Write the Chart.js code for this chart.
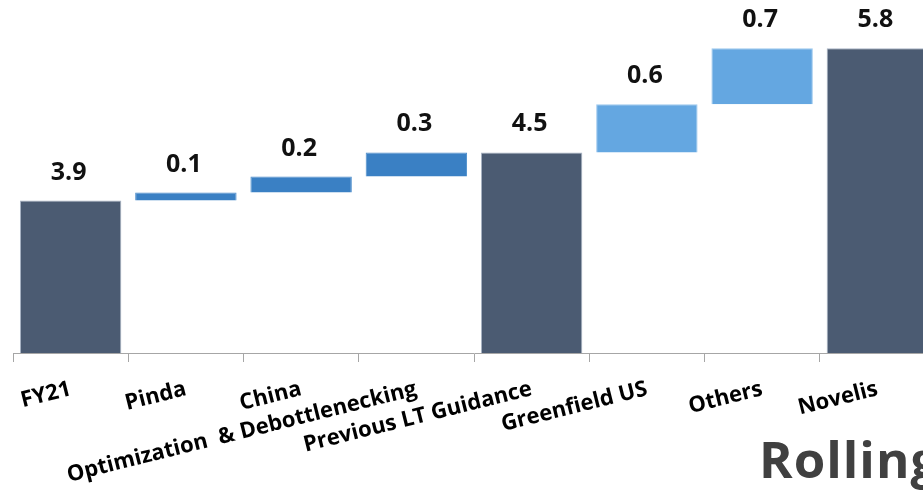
<!DOCTYPE html>
<html>
<head>
<meta charset="utf-8">
<script src="https://cdn.jsdelivr.net/npm/chart.js@4.4.1/dist/chart.umd.min.js"></script>
<style>
html, body { margin: 0; padding: 0; overflow: hidden; background: #fff; }
#wrap { position: relative; width: 940px; height: 492px; }
</style>
</head>
<body>
<div id="wrap"><canvas id="graficoCascata"></canvas></div>
<script>
// categorias (eixo x)
const categorias = ['FY21', 'Pinda', 'China', 'Optimization  & Debottlenecking', 'Previous LT Guidance', 'Greenfield US', 'Others', 'Novelis'];
// valores de cada barra
const valores = [3.9, 0.1, 0.2, 0.3, 4.5, 0.6, 0.7, 5.8];
// barras de total (partem do zero)
const totais = [true, false, false, false, true, false, false, true];

// monta as barras flutuantes da cascata
let acumulado = 0;
const faixas = valores.map((v, i) => {
    if (totais[i]) { acumulado = v; return [0, v]; }
    const ini = acumulado;
    acumulado = +(acumulado + v).toFixed(2);
    return [ini, acumulado];
});

const cores = ['#4B5B72', '#3A80C4', '#3A80C4', '#3A80C4', '#4B5B72', '#64A7E1', '#64A7E1', '#4B5B72'];
const bordas = ['#A9B4C4', '#4C8DCB', '#4C8DCB', '#4C8DCB', '#A9B4C4', '#9CC8EE', '#9CC8EE', '#A9B4C4'];

// rotulos de valor em cima das barras
const rotulosValor = {
    id: 'rotulosValor',
    afterDatasetsDraw(chart) {
        const ctx = chart.ctx;
        const meta = chart.getDatasetMeta(0);
        ctx.save();
        ctx.font = 'bold 25px "Open Sans"';
        ctx.fillStyle = '#111';
        ctx.textAlign = 'center';
        ctx.textBaseline = 'alphabetic';
        meta.data.forEach((barra, i) => {
            const topo = Math.min(barra.y, barra.base);
            ctx.fillText(valores[i].toFixed(1), barra.x - 2, topo - 21);
        });
        ctx.restore();
    }
};

// titulo cortado no canto inferior direito
const tituloRolling = {
    id: 'tituloRolling',
    afterDraw(chart) {
        const ctx = chart.ctx;
        ctx.save();
        ctx.font = 'bold 51px "Open Sans"';
        ctx.letterSpacing = '1px';
        ctx.fillStyle = '#404040';
        ctx.textAlign = 'left';
        ctx.textBaseline = 'alphabetic';
        ctx.fillText('Rolling', 759, 478);
        ctx.restore();
    }
};

let grafico = document.getElementById('graficoCascata').getContext('2d');
let cascata = new Chart(grafico, {
    type: 'bar',
    data: {
        labels: categorias,
        datasets: [
            {
                data: faixas,
                backgroundColor: cores,
                borderColor: bordas,
                borderWidth: 1,
                borderSkipped: 'start',
                categoryPercentage: 1,
                barPercentage: 0.88,
                clip: 0
            }
        ]
    },
    options: {
        responsive: true,
        maintainAspectRatio: false,
        animation: false,
        layout: { padding: { left: 13, right: 5, top: 0, bottom: 0 } },
        plugins: {
            legend: { display: false },
            tooltip: { enabled: false }
        },
        scales: {
            x: {
                z: 1,
                grid: { drawOnChartArea: false, color: '#A6A6A6', tickLength: 9, lineWidth: 1 },
                border: { color: '#A6A6A6', width: 1 },
                ticks: {
                    autoSkip: false,
                    minRotation: 14,
                    maxRotation: 14,
                    padding: 14,
                    color: '#000',
                    font: { family: '"Open Sans"', size: 22, weight: 'bold' }
                },
                afterFit(scale) { scale.height = 139; }
            },
            y: {
                display: false,
                min: 2,
                max: 6.4
            }
        }
    },
    plugins: [rotulosValor, tituloRolling]
});
</script>
</body>
</html>
